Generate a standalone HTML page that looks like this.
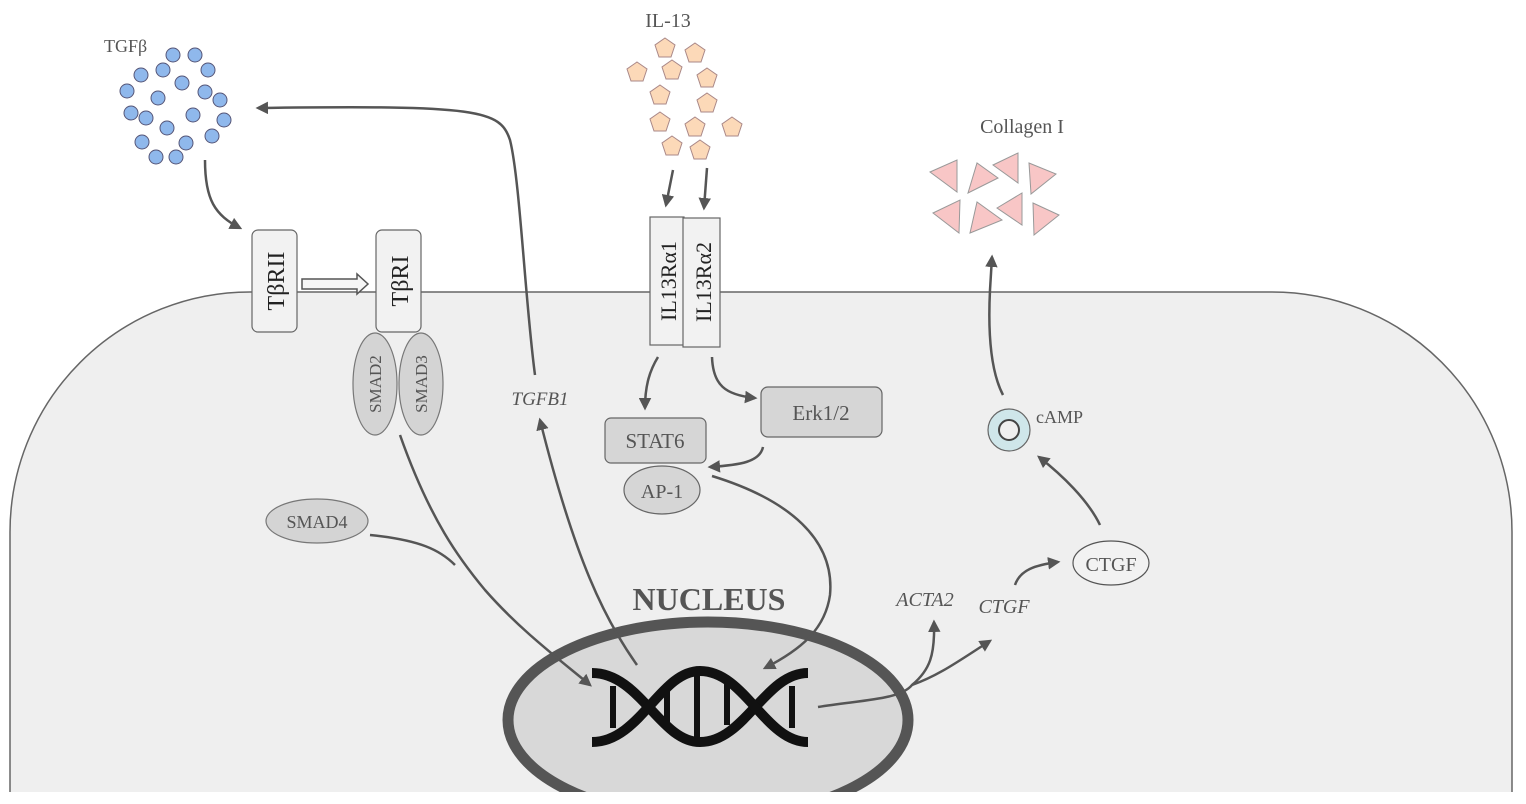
<!DOCTYPE html>
<html><head><meta charset="utf-8"><style>
html,body{margin:0;padding:0;background:#fff;}
svg{display:block;}
text{font-family:"Liberation Serif",serif;fill:#555;}
</style></head><body>
<svg width="1526" height="804" viewBox="0 0 1526 804" xmlns="http://www.w3.org/2000/svg">
<defs>
<marker id="a" viewBox="0 0 10 10" refX="8" refY="5" markerWidth="5" markerHeight="5" orient="auto-start-reverse" markerUnits="strokeWidth"><path d="M0,0 L10,5 L0,10 z" fill="#555"/></marker>
<clipPath id="c"><rect x="0" y="0" width="1526" height="792"/></clipPath>
</defs>
<!-- cell -->
<path d="M10,804 L10,532 A240,240 0 0 1 250,292 L1272,292 A240,240 0 0 1 1512,532 L1512,804 Z" fill="#efefef" stroke="#666" stroke-width="1.5"/>
<rect x="0" y="792" width="1526" height="12" fill="#fff"/>

<!-- TGFb dots -->
<g fill="#8fb8ec" stroke="#557" stroke-width="1">
<circle cx="173" cy="55" r="7"/><circle cx="195" cy="55" r="7"/><circle cx="208" cy="70" r="7"/>
<circle cx="141" cy="75" r="7"/><circle cx="163" cy="70" r="7"/><circle cx="182" cy="83" r="7"/>
<circle cx="205" cy="92" r="7"/><circle cx="220" cy="100" r="7"/><circle cx="127" cy="91" r="7"/>
<circle cx="158" cy="98" r="7"/><circle cx="131" cy="113" r="7"/><circle cx="146" cy="118" r="7"/>
<circle cx="193" cy="115" r="7"/><circle cx="224" cy="120" r="7"/><circle cx="167" cy="128" r="7"/>
<circle cx="212" cy="136" r="7"/><circle cx="142" cy="142" r="7"/><circle cx="186" cy="143" r="7"/>
<circle cx="156" cy="157" r="7"/><circle cx="176" cy="157" r="7"/>
</g>
<text x="104" y="52" font-size="18">TGFβ</text>

<!-- IL-13 pentagons -->
<g fill="#fcd9b8" stroke="#a88" stroke-width="1">
<path transform="translate(665,48)" d="M0,-10 L10,-3 L6,9 L-6,9 L-10,-3 Z"/>
<path transform="translate(695,53)" d="M0,-10 L10,-3 L6,9 L-6,9 L-10,-3 Z"/>
<path transform="translate(637,72)" d="M0,-10 L10,-3 L6,9 L-6,9 L-10,-3 Z"/>
<path transform="translate(672,70)" d="M0,-10 L10,-3 L6,9 L-6,9 L-10,-3 Z"/>
<path transform="translate(707,78)" d="M0,-10 L10,-3 L6,9 L-6,9 L-10,-3 Z"/>
<path transform="translate(660,95)" d="M0,-10 L10,-3 L6,9 L-6,9 L-10,-3 Z"/>
<path transform="translate(707,103)" d="M0,-10 L10,-3 L6,9 L-6,9 L-10,-3 Z"/>
<path transform="translate(660,122)" d="M0,-10 L10,-3 L6,9 L-6,9 L-10,-3 Z"/>
<path transform="translate(695,127)" d="M0,-10 L10,-3 L6,9 L-6,9 L-10,-3 Z"/>
<path transform="translate(732,127)" d="M0,-10 L10,-3 L6,9 L-6,9 L-10,-3 Z"/>
<path transform="translate(672,146)" d="M0,-10 L10,-3 L6,9 L-6,9 L-10,-3 Z"/>
<path transform="translate(700,150)" d="M0,-10 L10,-3 L6,9 L-6,9 L-10,-3 Z"/>
</g>
<text x="668" y="27" font-size="20" text-anchor="middle">IL-13</text>

<!-- Collagen -->
<text x="1022" y="133" font-size="20" text-anchor="middle">Collagen I</text>
<g fill="#f8c6c6" stroke="#999" stroke-width="1">
<path d="M930,172 L957,160 L957,192 Z"/>
<path d="M968,193 L977,163 L998,178 Z"/>
<path d="M993,165 L1018,153 L1018,183 Z"/>
<path d="M1029,163 L1056,174 L1031,194 Z"/>
<path d="M933,213 L960,200 L959,233 Z"/>
<path d="M970,233 L977,202 L1002,220 Z"/>
<path d="M997,208 L1022,193 L1022,225 Z"/>
<path d="M1033,203 L1059,215 L1034,235 Z"/>
</g>

<!-- nucleus -->
<text x="709" y="610" font-size="32" font-weight="bold" text-anchor="middle">NUCLEUS</text>
<g clip-path="url(#c)">
<ellipse cx="708" cy="720" rx="200" ry="98" fill="#d8d8d8" stroke="#555" stroke-width="11"/>
</g>
<g fill="none" stroke="#111" stroke-width="10">
<path d="M592,673 C640,673 660,742 700,742 C745,742 765,673 808,673"/>
<path d="M592,742 C640,742 660,671 700,671 C745,671 765,742 808,742"/>
</g>
<g stroke="#111" stroke-width="6">
<line x1="613" y1="686" x2="613" y2="728"/>
<line x1="667" y1="690" x2="667" y2="728"/>
<line x1="697" y1="676" x2="697" y2="738"/>
<line x1="727" y1="682" x2="727" y2="725"/>
<line x1="792" y1="686" x2="792" y2="728"/>
</g>

<!-- connectors -->
<g fill="none" stroke="#555" stroke-width="2.5">
<path d="M205,160 C205,200 215,215 240,228" marker-end="url(#a)"/>
<path d="M535,375 C525,300 520,180 510,140 C500,110 480,105 258,108" marker-end="url(#a)"/>
<path d="M637,665 C605,620 575,560 540,420" marker-end="url(#a)"/>
<path d="M400,435 C430,520 460,560 485,590 C520,630 560,660 590,685" marker-end="url(#a)"/>
<path d="M370,535 C420,540 440,550 455,565"/>
<path d="M673,170 L666,205" marker-end="url(#a)"/>
<path d="M707,168 L704,208" marker-end="url(#a)"/>
<path d="M658,357 C650,370 645,385 645,408" marker-end="url(#a)"/>
<path d="M712,357 C713,385 725,395 755,398" marker-end="url(#a)"/>
<path d="M763,447 C760,462 740,465 710,467" marker-end="url(#a)"/>
<path d="M712,476 C790,500 835,540 830,595 C825,630 800,650 765,668" marker-end="url(#a)"/>
<path d="M818,707 C860,700 900,700 912,685 C930,670 935,655 934,622" marker-end="url(#a)"/>
<path d="M912,685 C940,675 960,660 990,641" marker-end="url(#a)"/>
<path d="M1015,585 C1020,570 1035,565 1058,562" marker-end="url(#a)"/>
<path d="M1100,525 C1088,500 1062,475 1039,457" marker-end="url(#a)"/>
<path d="M1003,395 C990,370 988,330 990,290 L992,257" marker-end="url(#a)"/>
</g>

<!-- receptors -->
<rect x="252" y="230" width="45" height="102" rx="6" fill="#f2f2f2" stroke="#666" stroke-width="1.2"/>
<text transform="translate(284,281) rotate(-90)" font-size="24" text-anchor="middle" style="fill:#222">TβRII</text>
<rect x="376" y="230" width="45" height="102" rx="6" fill="#f2f2f2" stroke="#666" stroke-width="1.2"/>
<text transform="translate(408,281) rotate(-90)" font-size="24" text-anchor="middle" style="fill:#222">TβRI</text>
<path d="M302,279 L357,279 L357,274 L368,284 L357,294 L357,289 L302,289 Z" fill="#f6f6f6" stroke="#555" stroke-width="1.5"/>
<ellipse cx="375" cy="384" rx="22" ry="51" fill="#d4d4d4" stroke="#777" stroke-width="1.2"/>
<ellipse cx="421" cy="384" rx="22" ry="51" fill="#d4d4d4" stroke="#777" stroke-width="1.2"/>
<text transform="translate(381,384) rotate(-90)" font-size="17" text-anchor="middle">SMAD2</text>
<text transform="translate(427,384) rotate(-90)" font-size="17" text-anchor="middle">SMAD3</text>
<ellipse cx="317" cy="521" rx="51" ry="22" fill="#d4d4d4" stroke="#777" stroke-width="1.2"/>
<text x="317" y="528" font-size="18" text-anchor="middle">SMAD4</text>
<text x="540" y="405" font-size="19" font-style="italic" text-anchor="middle">TGFB1</text>

<rect x="650" y="217" width="34" height="128" fill="#f2f2f2" stroke="#666" stroke-width="1.2"/>
<rect x="683" y="218" width="37" height="129" fill="#f2f2f2" stroke="#666" stroke-width="1.2"/>
<text transform="translate(676,281) rotate(-90)" font-size="22" text-anchor="middle" style="fill:#222">IL13Rα1</text>
<text transform="translate(711,282) rotate(-90)" font-size="22" text-anchor="middle" style="fill:#222">IL13Rα2</text>

<rect x="605" y="418" width="101" height="45" rx="6" fill="#d6d6d6" stroke="#666" stroke-width="1.2"/>
<text x="655" y="448" font-size="21" text-anchor="middle">STAT6</text>
<rect x="761" y="387" width="121" height="50" rx="7" fill="#d6d6d6" stroke="#666" stroke-width="1.2"/>
<text x="821" y="420" font-size="21" text-anchor="middle">Erk1/2</text>
<ellipse cx="662" cy="490" rx="38" ry="24" fill="#d6d6d6" stroke="#666" stroke-width="1.2"/>
<text x="662" y="498" font-size="20" text-anchor="middle">AP-1</text>

<!-- right side -->
<circle cx="1009" cy="430" r="21" fill="#cfe6ea" stroke="#666" stroke-width="1.2"/>
<circle cx="1009" cy="430" r="10" fill="#efefef" stroke="#444" stroke-width="2"/>
<text x="1036" y="423" font-size="18">cAMP</text>
<ellipse cx="1111" cy="563" rx="38" ry="22" fill="#f2f2f2" stroke="#555" stroke-width="1.2"/>
<text x="1111" y="571" font-size="20" text-anchor="middle">CTGF</text>
<text x="925" y="606" font-size="20" font-style="italic" text-anchor="middle">ACTA2</text>
<text x="1004" y="613" font-size="20" font-style="italic" text-anchor="middle">CTGF</text>
</svg>
</body></html>
